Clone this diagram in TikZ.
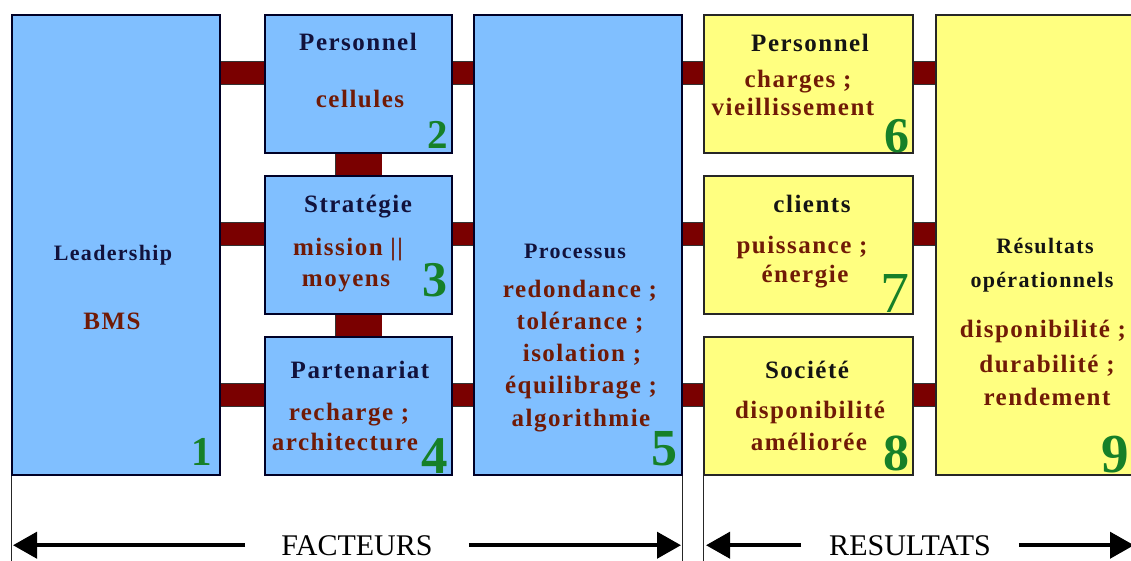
\documentclass[tikz,border=0pt]{standalone}
\usepackage{fontspec}
\setmainfont{Liberation Serif}
\newfontfamily\lsfont[LetterSpace=6]{Liberation Serif}
\usetikzlibrary{calc,arrows.meta}
\definecolor{boxblue}{RGB}{128,191,255}
\definecolor{boxyellow}{RGB}{255,255,128}
\definecolor{barred}{RGB}{122,0,0}
\definecolor{titlecol}{RGB}{18,18,60}
\definecolor{titlecolb}{RGB}{20,20,20}
\definecolor{contcol}{RGB}{112,26,6}
\definecolor{numgreen}{RGB}{22,128,40}
\pgfdeclarelayer{bg}
\pgfsetlayers{bg,main}
\begin{document}
\begin{tikzpicture}[x=1pt,y=-1pt,
  bluebox/.style={draw=black!85!blue, line width=1.4pt, fill=boxblue, inner sep=0, minimum width=187, minimum height=138},
  yelbox/.style={draw=black!85, line width=1.4pt, fill=boxyellow, inner sep=0, minimum width=209, minimum height=138},
  hbar/.style={draw=black!80, line width=0.7pt, double=barred, double distance=22pt},
  vbar/.style={draw=black!80, line width=0.7pt, double=barred, double distance=46pt},
  txt/.style={inner sep=0, anchor=base},
  title/.style={txt, text=titlecol, font=\lsfont\bfseries\fontsize{25}{30}\selectfont},
  btitle/.style={txt, text=titlecol, font=\lsfont\bfseries\fontsize{22}{26}\selectfont},
  ytitle/.style={title, text=titlecolb},
  ybtitle/.style={btitle, text=titlecolb},
  cont/.style={txt, text=contcol, font=\lsfont\bfseries\fontsize{25}{30}\selectfont},
  num/.style={inner sep=0, text=numgreen},
  frame/.style={draw=black!85, line width=1.2pt},
  bigarrow/.style={line width=4pt, -{Triangle[length=24pt,width=26pt]}},
  bottomlabel/.style={inner ysep=0, inner xsep=36pt, anchor=base, font=\fontsize{30}{34}\selectfont}
]
\useasboundingbox (0,0) rectangle (1131,560);
\clip (0,0) rectangle (1131,560);

% boxes
\node[bluebox, minimum width=208, minimum height=460] (b1) at (116,245) {};
\node[bluebox] (b2) at (358.5,84) {};
\node[bluebox] (b3) at (358.5,245) {};
\node[bluebox] (b4) at (358.5,406) {};
\node[bluebox, minimum width=208, minimum height=460] (b5) at (578,245) {};
\node[yelbox] (b6) at (808.5,84) {};
\node[yelbox] (b7) at (808.5,245) {};
\node[yelbox] (b8) at (808.5,406) {};
\node[yelbox, minimum width=214, minimum height=460] (b9) at (1043,245) {};

% background and bars
\begin{pgfonlayer}{bg}
\fill[white] (0,0) rectangle (1131,560);
\foreach \l/\r in {b2/b5,b3/b5,b4/b5}{
  \draw[hbar] ($(\l.east)+(0,-11)$) -- ($(\r.west |- \l.east)+(0,-11)$);}
\foreach \l/\r in {b1/b2,b1/b3,b1/b4}{
  \draw[hbar] ($(\l.east |- \r.west)+(0,-11)$) -- ($(\r.west)+(0,-11)$);}
\foreach \l/\r in {b5/b6,b5/b7,b5/b8}{
  \draw[hbar] ($(\l.east |- \r.west)+(0,-11)$) -- ($(\r.west)+(0,-11)$);}
\foreach \l/\r in {b6/b9,b7/b9,b8/b9}{
  \draw[hbar] ($(\l.east)+(0,-11)$) -- ($(\r.west |- \l.east)+(0,-11)$);}
\draw[vbar] (b2.south) -- (b3.north);
\draw[vbar] (b3.south) -- (b4.north);
\end{pgfonlayer}

% texts box 1
\node[btitle] (t1a) at (113,260) {Leadership};
\node[cont] (t1b) at (112,329) {BMS};
% box 2
\node[title] (t2a) at (358,50) {Personnel};
\node[cont] (t2b) at (360,107) {cellules};
% box 3
\node[title] (t3a) at (358,212) {Stratégie};
\node[cont] (t3b) at (348,255) {mission ||};
\node[cont] (t3c) at (346,286) {moyens};
% box 4
\node[title] (t4a) at (360,378) {Partenariat};
\node[cont] (t4b) at (349,420) {recharge ;};
\node[cont] (t4c) at (345,450) {architecture};
% box 5
\node[btitle] (t5a) at (575,258) {Processus};
\node[cont] (t5b) at (580,297) {redondance ;};
\node[cont] (t5c) at (580,329) {tolérance ;};
\node[cont] (t5d) at (582,361) {isolation ;};
\node[cont] (t5e) at (581,393) {équilibrage ;};
\node[cont] (t5f) at (581,426) {algorithmie};
% box 6
\node[ytitle] (t6a) at (810,51) {Personnel};
\node[cont] (t6b) at (798,87) {charges ;};
\node[cont] (t6c) at (793,115) {vieillissement};
% box 7
\node[ytitle] (t7a) at (812,212) {clients};
\node[cont] (t7b) at (802,253) {puissance ;};
\node[cont] (t7c) at (805,282) {énergie};
% box 8
\node[ytitle] (t8a) at (807,378) {Société};
\node[cont] (t8b) at (810,418) {disponibilité};
\node[cont] (t8c) at (809,450) {améliorée};
% box 9
\node[ybtitle] (t9a) at (1045,253) {Résultats};
\node[ybtitle] (t9b) at (1042,287) {opérationnels};
\node[cont] (t9c) at (1043,337) {disponibilité ;};
\node[cont] (t9d) at (1047,372) {durabilité ;};
\node[cont] (t9e) at (1047,405) {rendement};

% numbers
\node[num, anchor=base east, font=\bfseries\fontsize{41}{41}\selectfont] (n1) at (212,465) {1};
\node[num, anchor=base east, font=\bfseries\fontsize{41}{41}\selectfont] (n2) at (448,148) {2};
\node[num, anchor=base east, font=\bfseries\fontsize{50}{50}\selectfont] (n3) at (448,296) {3};
\node[num, anchor=base east, font=\bfseries\fontsize{53}{53}\selectfont] (n4) at (448,473) {4};
\node[num, anchor=base east, font=\bfseries\fontsize{52}{52}\selectfont] (n5) at (678,465) {5};
\node[num, anchor=base east, font=\bfseries\fontsize{50}{50}\selectfont] (n6) at (910,152) {6};
\node[num, anchor=base east, font=\fontsize{58}{58}\selectfont] (n7) at (910,312) {7};
\node[num, anchor=base east, font=\bfseries\fontsize{52}{52}\selectfont] (n8) at (910,470) {8};
\node[num, anchor=base east, font=\bfseries\fontsize{55}{55}\selectfont] (n9) at (1129,472) {9};

% lower frame lines
\draw[frame] (b1.south west) -- ++(0,100);
\draw[frame] (b5.south east) -- ++(0,100);
\draw[frame] (b8.south west) -- ++(0,100);

% bottom arrows
\coordinate (fl) at (13,545);
\coordinate (fr) at (681,545);
\coordinate (rl) at (706,545);
\coordinate (rr) at (1134,545);
\node[bottomlabel] (fac) at (357,555) {FACTEURS};
\node[bottomlabel, inner xsep=28pt] (res) at (910,555) {RESULTATS};
\draw[bigarrow] (fac.west) -- (fac.west -| fl);
\draw[bigarrow] (fac.east) -- (fac.east -| fr);
\draw[bigarrow] (res.west) -- (res.west -| rl);
\draw[bigarrow] (res.east) -- (res.east -| rr);
\end{tikzpicture}
\end{document}
